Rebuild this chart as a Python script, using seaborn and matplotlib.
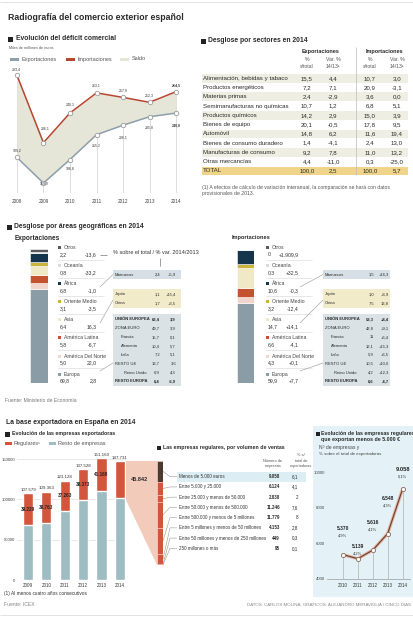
import numpy as np
import pandas as pd
import matplotlib
matplotlib.use("Agg")
import matplotlib.pyplot as plt
import seaborn as sns
from matplotlib import font_manager as fm
from matplotlib.patches import Rectangle, Polygon

# ---------------- datos ----------------
anios = [2008, 2009, 2010, 2011, 2012, 2013, 2014]
exportaciones = [189.2, 159.9, 186.8, 215.2, 226.1, 235.8, 240.0]
importaciones = [283.4, 206.1, 240.1, 263.1, 257.9, 252.3, 264.5]

sectores = ["Alimentación, bebidas y tabaco", "Productos energéticos", "Materias primas",
            "Semimanufacturas no químicas", "Productos químicos", "Bienes de equipo",
            "Automóvil", "Bienes de consumo duradero", "Manufacturas de consumo",
            "Otras mercancías", "TOTAL"]
exp_total = [15.5, 7.2, 2.4, 10.7, 14.2, 20.1, 14.8, 1.4, 9.2, 4.4, 100.0]
exp_var = [4.4, 7.1, -2.9, 1.2, 2.9, -0.5, 6.2, -4.1, 7.8, -11.0, 2.5]
imp_total = [10.7, 20.9, 3.6, 6.8, 15.0, 17.8, 11.6, 2.4, 11.0, 0.3, 100.0]
imp_var = [3.0, -3.1, 0.0, 5.1, 3.9, 9.5, 19.4, 13.0, 13.2, -25.0, 5.7]

# de abajo arriba en la barra
areas = ["Europa", "América Del Norte", "América Latina", "Asia", "Oriente Medio",
         "África", "Oceanía", "Otros"]
geo_exp = [69.8, 5.0, 5.8, 6.4, 3.1, 6.8, 0.8, 2.2]
geo_exp_txt = ["69,8", "5,0", "5,8", "6,4", "3,1", "6,8", "0,8", "2,2"]
geo_exp_var = ["2,8", "22,0", "-6,7", "16,3", "-3,5", "-1,0", "-33,2", "-13,6"]
geo_imp = [59.9, 4.3, 6.6, 14.7, 3.2, 10.6, 0.3, 0.0]
geo_imp_txt = ["59,9", "4,3", "6,6", "14,7", "3,2", "10,6", "0,3", "0"]
geo_imp_var = ["+7,7", "+0,1", "-4,1", "+14,1", "-12,4", "-0,3", "+32,5", "+1.909,9"]

exp_marruecos = [("Marruecos", "2,4", "+5,9")]
exp_asia = [("Japón", "1,1", "+15,4"), ("China", "1,7", "+3,5")]
exp_europa = [("UNIÓN EUROPEA", "63,4", "3,9"), ("ZONA EURO", "49,7", "3,9"),
              ("Francia", "15,7", "0,1"), ("Alemania", "10,4", "5,7"), ("Italia", "7,2", "5,1"),
              ("RESTO UE", "13,7", "3,6"), ("Reino Unido", "6,9", "4,3"),
              ("RESTO EUROPA", "6,4", "-6,9")]
imp_marruecos = [("Marruecos", "1,5", "+16,3")]
imp_asia = [("Japón", "1,0", "+8,9"), ("China", "7,5", "13,8")]
imp_europa = [("UNIÓN EUROPEA", "53,3", "+8,4"), ("ZONA EURO", "42,8", "+9,1"),
              ("Francia", "11", "+6,4"), ("Alemania", "12,1", "+15,3"), ("Italia", "5,9", "+6,5"),
              ("RESTO UE", "10,5", "+10,6"), ("Reino Unido", "4,2", "+12,3"),
              ("RESTO EUROPA", "6,6", "-4,7")]

anios_emp = [2009, 2010, 2011, 2012, 2013, 2014]
total_emp = [107579, 109363, 123128, 137528, 151160, 147731]
regulares = [39229, 38763, 37263, 38373, 41168, 45842]
resto = [68350, 70600, 85865, 99155, 109992, 101889]

tramos = ["Menos de 5.000 euros", "Entre 5.000 y 25.000", "Entre 25.000 y menos de 50.000",
          "Entre 50.000 y menos de 500.000", "Entre 500.000 y menos de 5 millones",
          "Entre 5 millones y menos de 50 millones", "Entre 50 millones y menos de 250 millones",
          "250 millones o más"]
n_empresas = [9058, 6124, 2838, 11246, 11779, 4153, 449, 95]
pct_tramos = ["6,1", "4,1", "2", "7,6", "8", "2,8", "0,3", "0,1"]

anios_reg = [2010, 2011, 2012, 2013, 2014]
reg_menos5000 = [5370, 5139, 5616, 6548, 9058]
reg_pct = ["4,9%", "4,2%", "4,1%", "4,3%", "6,1%"]

# ---------------- estilo ----------------
C_EXP = "#8e9fab"
C_IMP = "#b8452f"
C_SALDO = "#e6e6d8"
C_REG = "#d3553b"
C_RESTO = "#9ebdc2"
INK = "#2a2a2a"
GREY = "#555555"
geo_colors = ["#8a9ca6", "#f2d5cc", "#c4512f", "#f1e9c6", "#c9b43e", "#14354b", "#dcdcdc", "#5a5a5a"]

sns.set_theme(style="white")
names = {f.name for f in fm.fontManager.ttflist}
NARROW = "Liberation Sans Narrow" if "Liberation Sans Narrow" in names else "Liberation Sans"
FAM = ["Liberation Sans", "DejaVu Sans"]
NFAM = [NARROW, "Liberation Sans", "DejaVu Sans"]
plt.rcParams["font.family"] = FAM

W, H = 414, 617
fig = plt.figure(figsize=(W / 100, H / 100), dpi=100)
fig.patch.set_facecolor("white")
ov = fig.add_axes([0, 0, 1, 1])
ov.set_xlim(0, W)
ov.set_ylim(H, 0)
ov.axis("off")
R = fig.canvas.get_renderer()


def axes_px(x0, y0, x1, y1):
    ax = fig.add_axes([x0 / W, 1 - y1 / H, (x1 - x0) / W, (y1 - y0) / H])
    ax.set_facecolor("none")
    return ax


def size_for(s, w, weight="normal", fam=FAM):
    t = ov.text(0, 0, s, fontsize=10, fontweight=weight, family=fam)
    bw = t.get_window_extent(R).width
    t.remove()
    return 10 * w / bw


def T(x, y, s, size, weight="normal", color=INK, ha="left", va="center", fam=FAM, **kw):
    return ov.text(x, y, s, fontsize=size, fontweight=weight, color=color, ha=ha, va=va,
                   family=fam, **kw)


def fit(x, y, s, w, weight="normal", fam=FAM, color=INK, ha="left", **kw):
    return T(x, y, s, size_for(s, w, weight, fam), weight, color, ha, fam=fam, **kw)


def sq(x, y, s=5, color="#222222"):
    ov.add_patch(Rectangle((x, y - s / 2), s, s, color=color, lw=0))


def rect(x0, y0, x1, y1, color, **kw):
    ov.add_patch(Rectangle((x0, y0), x1 - x0, y1 - y0, color=color, lw=0, **kw))


def line(xs, ys, color="#aaaaaa", lw=0.5):
    ov.plot(xs, ys, color=color, lw=lw, solid_capstyle="butt")


def coma(v):
    return f"{v:.1f}".replace(".", ",")


def miles(v):
    return f"{v:,}".replace(",", ".")


S_TBL = size_for("Alimentación, bebidas y tabaco", 86)
S_GEO = size_for("América Del Norte", 42)
S_BOX = size_for("UNIÓN EUROPEA", 35, "bold", NFAM)
S_TRAMO = size_for("Entre 50 millones y menos de 250 millones", 87)
S_BARLAB = size_for("107.579", 16)
S_YTICK = size_for("150000", 14)
S_YEAR = size_for("2008", 10.7)
S_LBL = size_for("206,1", 8.7, fam=NFAM)
S_LEG = size_for("Exportaciones", 35)
S_SMALL = size_for("Fuente: Ministerio de Economía", 71)

line([0, W], [1.5, 1.5], "#dddddd", 0.6)
line([0, W], [615, 615], "#dddddd", 0.6)

# ---------------- titulo ----------------
fit(8, 18, "Radiografía del comercio exterior español", 175, "bold", NFAM)

# ---------------- evolucion deficit ----------------
sq(8, 39)
fit(16, 39, "Evolución del déficit comercial", 99, "bold", NFAM)
fit(9, 48, "Miles de millones de euros", 45, color=GREY)
for x0, c, lab in [(10, C_EXP, "Exportaciones"), (66, C_IMP, "Importaciones"), (120, C_SALDO, "Saldo")]:
    rect(x0, 57.5, x0 + 9, 60.5, c)
    T(x0 + 12, 59, lab, S_LEG, color=GREY)

ax1 = axes_px(10, 65, 183, 193)
lo1, hi1 = 148.5, 295
ax1.fill_between(anios, exportaciones, importaciones, color=C_SALDO, lw=0, zorder=1)
ax1.vlines(anios, lo1, importaciones, color="#d0d0d0", lw=0.5, zorder=0.5)
ax1.axhline(lo1, color="#cccccc", lw=0.7, zorder=0.6)
mk = dict(marker="o", ms=3.2, markerfacecolor="white", markeredgecolor="#9b9b9b", markeredgewidth=0.6)
sns.lineplot(x=anios, y=importaciones, ax=ax1, color=C_IMP, lw=1.1, zorder=3, **mk)
sns.lineplot(x=anios, y=exportaciones, ax=ax1, color=C_EXP, lw=1.1, zorder=3, **mk)
ax1.set_xlim(2007.74, 2014.26)
ax1.set_ylim(lo1, hi1)
ax1.set_xlabel("")
ax1.set_ylabel("")
ax1.set_yticks([])
ax1.set_xticks(anios)
ax1.set_xticklabels([str(a) for a in anios], fontsize=S_YEAR, color="#444444")
ax1.tick_params(axis="x", length=0, pad=4)
sns.despine(ax=ax1, left=True, bottom=True)
imp_off = [(-1, 6), (2, 14), (0, 8), (0, 7), (0, 7), (0, 7), (0, 6)]
exp_off = [(0, 7), (1, 0), (0, -9), (0, -11), (0, -12), (0, -11), (0, -12)]
for i, a in enumerate(anios):
    w = "bold" if a == 2014 else "normal"
    for vals, off in [(importaciones, imp_off), (exportaciones, exp_off)]:
        ax1.annotate(coma(vals[i]), (a, vals[i]), xytext=(off[i][0] * 0.72, off[i][1] * 0.72),
                     textcoords="offset points", ha="center", va="center", fontsize=S_LBL,
                     family=NFAM, fontweight=w, color="#333333", zorder=4)

# ---------------- desglose por sectores ----------------
sq(201, 41)
fit(208, 41, "Desglose por sectores en 2014", 99, "bold", NFAM)
S_HEAD = size_for("Exportaciones", 38, "bold")
T(321, 52, "Exportaciones", S_HEAD, "bold", ha="center")
T(384, 52, "Importaciones", S_HEAD, "bold", ha="center")
S_SUB = S_TBL * 0.82
cols = [307, 333, 370, 397]
for cx in (cols[0], cols[2]):
    T(cx, 59.5, "%", S_SUB, ha="center", color=GREY)
    T(cx, 66.5, "s/total", S_SUB, ha="center", color=GREY)
for cx in (cols[1], cols[3]):
    T(cx, 59.5, "Var. %", S_SUB, ha="center", color=GREY)
    T(cx, 66.5, "14/13¹", S_SUB, ha="center", color=GREY)
for i, s in enumerate(sectores):
    y = 78.3 + 9.27 * i
    if s == "TOTAL":
        rect(202, y - 4.4, 408, y + 4.4, "#efd48a")
    elif i % 2 == 0:
        rect(202, y - 4.4, 408, y + 4.4, "#efeee2")
    T(203, y, s, S_TBL)
    for cx, v in zip(cols, [exp_total[i], exp_var[i], imp_total[i], imp_var[i]]):
        T(cx, y, coma(v), S_TBL, ha="center")
line([356, 356], [47, 175], "#bbbbbb", 0.5)
NOTA = "(1) A efectos de cálculo de variación interanual, la comparación se hará con datos"
fit(202, 187.5, NOTA, 186, color=GREY)
T(202, 193, "provisionales de 2013.", size_for(NOTA, 186), color=GREY)

# ---------------- desglose geografico ----------------
sq(7, 227)
fit(14, 227, "Desglose por áreas geográficas en 2014", 129, "bold", NFAM)
fit(15, 238, "Exportaciones", 45, "bold", NFAM)
fit(232, 238, "Importaciones", 38, "bold", NFAM)


def geo_bar(x0, x1, vals):
    ax = axes_px(x0, 249, x1, 383)
    bottoms = np.concatenate([[0], np.cumsum(vals)[:-1]])
    ax.bar(np.zeros(len(vals)), vals, bottom=bottoms, width=1, color=geo_colors,
           edgecolor="white", linewidth=0.4)
    ax.set_xlim(-0.5, 0.5)
    ax.set_ylim(0, 100)
    ax.axis("off")


geo_bar(30, 48, geo_exp)
geo_bar(237, 254, geo_imp)


def geo_legend(xs, share_txt, var_txt, var_right):
    for k, i in enumerate(range(len(areas) - 1, -1, -1)):
        y = 247.7 + 18.05 * k
        if k > 0:
            line([xs, xs + 46], [y - 6, y - 6], "#d5d5d5", 0.4)
        sq(xs, y, 3, geo_colors[i])
        T(xs + 6, y, areas[i], S_GEO, color="#444444")
        T(xs + 2, y + 7, share_txt[i], S_GEO, color="#333333")
        T(var_right, y + 7, var_txt[i], S_GEO, color="#333333", ha="right")


geo_legend(58, geo_exp_txt, geo_exp_var, 97)
geo_legend(266, geo_imp_txt, geo_imp_var, 299)

fit(113, 252, "% sobre el total / % var. 2014/2013", 86, color="#333333")
line([100, 107], [255, 255], "#777777", 0.5)
line([160, 160], [258, 266], "#777777", 0.5)


def boxes(x0, x1, c1, c2, dx_line, grupos):
    specs = [(270, "#d5dfe5", 274.5, 9), (289, "#f2ebc9", 294.5, 9), (314, "#dae2e6", 319.5, 8.85)]
    for rows, (ytop, col, y0, step) in zip(grupos, specs):
        rect(x0, ytop, x1, y0 + step * (len(rows) - 1) + 4.5, col)
        for j, (lab, a, b) in enumerate(rows):
            y = y0 + step * j
            bold = lab in ("UNIÓN EUROPEA", "RESTO EUROPA")
            ind = 9 if lab == "Reino Unido" else (6 if lab in ("Francia", "Alemania", "Italia") else 0)
            wt = "bold" if bold else "normal"
            T(x0 + 2 + ind, y, lab, S_BOX, wt, fam=NFAM)
            T(c1, y, a, S_BOX, wt, ha="right", fam=NFAM)
            T(c2, y, b, S_BOX, wt, ha="right", fam=NFAM)
    line([dx_line, x0], [287, 274.5])
    line([dx_line, x0], [323, 300])
    line([dx_line, x0], [371, 363])


boxes(113, 181, 160, 176, 100, [exp_marruecos, exp_asia, exp_europa])
boxes(323, 390, 374, 389, 300, [imp_marruecos, imp_asia, imp_europa])
fit(5, 400, "Fuente: Ministerio de Economía", 71, color="#777777")

# ---------------- base exportadora ----------------
fit(6, 422, "La base exportadora en España en 2014", 129, "bold", NFAM)
sq(5, 434)
fit(12, 434, "Evolución de las empresas exportadoras", 102, "bold", NFAM)
rect(5, 441.5, 12, 445, C_REG)
T(14, 443.3, "Regulares¹", S_LEG, color=GREY)
rect(49, 441.5, 56, 445, C_RESTO)
T(58, 443.3, "Resto de empresas", S_LEG, color=GREY)

ax4 = axes_px(17, 454.3, 126, 580)
sns.barplot(x=anios_emp, y=total_emp, color=C_REG, saturation=1, width=0.55, errorbar=None, ax=ax4, zorder=2)
sns.barplot(x=anios_emp, y=resto, color=C_RESTO, saturation=1, width=0.55, errorbar=None, ax=ax4, zorder=2)
ax4.set_xlim(-0.6, 5.33)
ax4.set_ylim(0, 156000)
ax4.set_yticks([0, 50000, 100000, 150000])
ax4.set_yticklabels(["0", "50000", "100000", "150000"], fontsize=S_YTICK, color="#444444")
ax4.tick_params(axis="y", length=0, pad=1)
ax4.tick_params(axis="x", length=0, pad=2.5, labelsize=S_YEAR * 0.95, labelcolor="#333333")
ax4.grid(axis="y", color="#dddddd", lw=0.5, zorder=0)
ax4.set_xlabel("")
ax4.set_ylabel("")
sns.despine(ax=ax4, left=True, bottom=True)
for i in range(len(anios_emp)):
    ax4.annotate(miles(total_emp[i]), (i, total_emp[i]), xytext=(0, 1), textcoords="offset points",
                 ha="center", va="bottom", fontsize=S_BARLAB, color="#333333", family=NFAM)
    if i < len(anios_emp) - 1:
        ax4.text(i, resto[i] + regulares[i] / 2, miles(regulares[i]), ha="center", va="center",
                 fontsize=S_BARLAB * 1.05, fontweight="bold", color="#222222", family=NFAM, zorder=5)

# abanico hacia el desglose de regulares
inv = ov.transData.inverted()
p_top = inv.transform(ax4.transData.transform((5.275, total_emp[-1])))
p_bot = inv.transform(ax4.transData.transform((5.275, resto[-1])))
seg_x0, seg_x1, seg_y0, seg_y1 = 157, 163, p_top[1], 565
ov.add_patch(Polygon([p_top, (seg_x0, seg_y0), (seg_x0, seg_y1), p_bot], closed=True,
                     color="#f3cbbb", lw=0))
T(139, (p_top[1] + p_bot[1]) / 2, miles(regulares[-1]), S_BARLAB * 1.25, "bold", ha="center", fam=NFAM)

ax5 = axes_px(seg_x0, seg_y0, seg_x1, seg_y1)
cum = np.cumsum(n_empresas)
bott = np.concatenate([[0], cum[:-1]])
ax5.bar(np.zeros(len(n_empresas)), n_empresas, bottom=bott, width=1,
        color=["#4a3a2f"] + [C_REG] * (len(n_empresas) - 1), edgecolor="#f6cfc0", linewidth=0.4)
ax5.set_xlim(-0.5, 0.5)
ax5.set_ylim(cum[-1], 0)
ax5.axis("off")

sq(157, 448, 4)
fit(163, 448, "Las empresas regulares, por volumen de ventas", 120, "bold", NFAM)
S_COLH = S_TRAMO * 0.85
T(282, 461.5, "Número de", S_COLH, ha="right", color=GREY)
T(282, 466.5, "empresas", S_COLH, ha="right", color=GREY)
for yy, s in [(455, "% s/"), (460.8, "total de"), (466.5, "exportadoras")]:
    T(301, yy, s, S_COLH, ha="center", color=GREY)
rect(177, 472, 306, 481.5, "#dcedf4")
for i, s in enumerate(tramos):
    y = 476.7 + 10.23 * i
    mid = inv.transform(ax5.transData.transform((0.5, bott[i] + n_empresas[i] / 2)))[1]
    line([seg_x1, 170, 177], [mid, y, y], "#999999", 0.4)
    T(179, y, s, S_TRAMO, color="#333333")
    T(280, y, miles(n_empresas[i]), S_TRAMO, "bold", ha="right")
    T(298, y, pct_tramos[i], S_TRAMO, ha="right")

# ---------------- panel regulares < 5.000 ----------------
rect(313, 426, 414, 597, "#e4f2f7")
sq(316, 433.5, 4)
fit(321, 433.5, "Evolución de las empresas regulares", 93, "bold", NFAM)
fit(321, 439.5, "que exportan menos de 5.000 €", 79, "bold", NFAM)
fit(319, 447.5, "Nº de empresas y", 40, color="#444444")
fit(319, 454, "% sobre el total de exportadoras", 64, color="#444444")

ax6 = axes_px(327, 472, 410, 579)
ax6.vlines(anios_reg, 4000, reg_menos5000, color="#b0b0b0", lw=0.5, zorder=1)
sns.lineplot(x=anios_reg, y=reg_menos5000, ax=ax6, color="#e9b6a6", lw=2.4, zorder=2)
sns.lineplot(x=anios_reg, y=reg_menos5000, ax=ax6, color="#6a4636", lw=0.9, zorder=3,
             marker="o", ms=3, markerfacecolor="white", markeredgecolor="#8a6a5a", markeredgewidth=0.6)
ax6.set_xlim(2008.95, 2014.49)
ax6.set_ylim(4000, 10000)
ax6.set_yticks([4000, 6000, 8000, 10000])
ax6.set_yticklabels(["4000", "6000", "8000", "10000"], fontsize=S_YTICK, color="#444444")
ax6.set_xticks(anios_reg)
ax6.set_xticklabels([str(a) for a in anios_reg], fontsize=S_YEAR * 0.95, color="#333333")
ax6.tick_params(axis="y", length=0, pad=1.5)
ax6.tick_params(axis="x", length=0, pad=3)
ax6.set_xlabel("")
ax6.set_ylabel("")
sns.despine(ax=ax6, left=True)
ax6.spines["bottom"].set_color("#999999")
ax6.spines["bottom"].set_linewidth(0.5)
lab_up = [26, 12, 28, 35, 19]
for i, a in enumerate(anios_reg):
    big = a == 2014
    ax6.annotate(miles(reg_menos5000[i]), (a, reg_menos5000[i]), xytext=(0, lab_up[i] * 0.72),
                 textcoords="offset points", ha="center", va="center", fontweight="bold",
                 fontsize=S_BARLAB * (1.3 if big else 1.1), color="#222222", family=NFAM)
    ax6.annotate(reg_pct[i], (a, reg_menos5000[i]), xytext=(0, (lab_up[i] - 7) * 0.72),
                 textcoords="offset points", ha="center", va="center",
                 fontsize=S_BARLAB * 0.9, color="#333333", family=NFAM)

# ---------------- pie ----------------
fit(4, 594, "(1) Al menos cuatro años consecutivos", 82, color="#333333")
fit(4, 605, "Fuente: ICEX", 31, color="#888888")
fit(411, 605, "DATOS: CARLOS MOLINA, GRÁFICOS: ALEJANDRO MERAVIGLIA / CINCO DÍAS", 163,
    color="#888888", ha="right")

fig.savefig("out.png", dpi=100)
